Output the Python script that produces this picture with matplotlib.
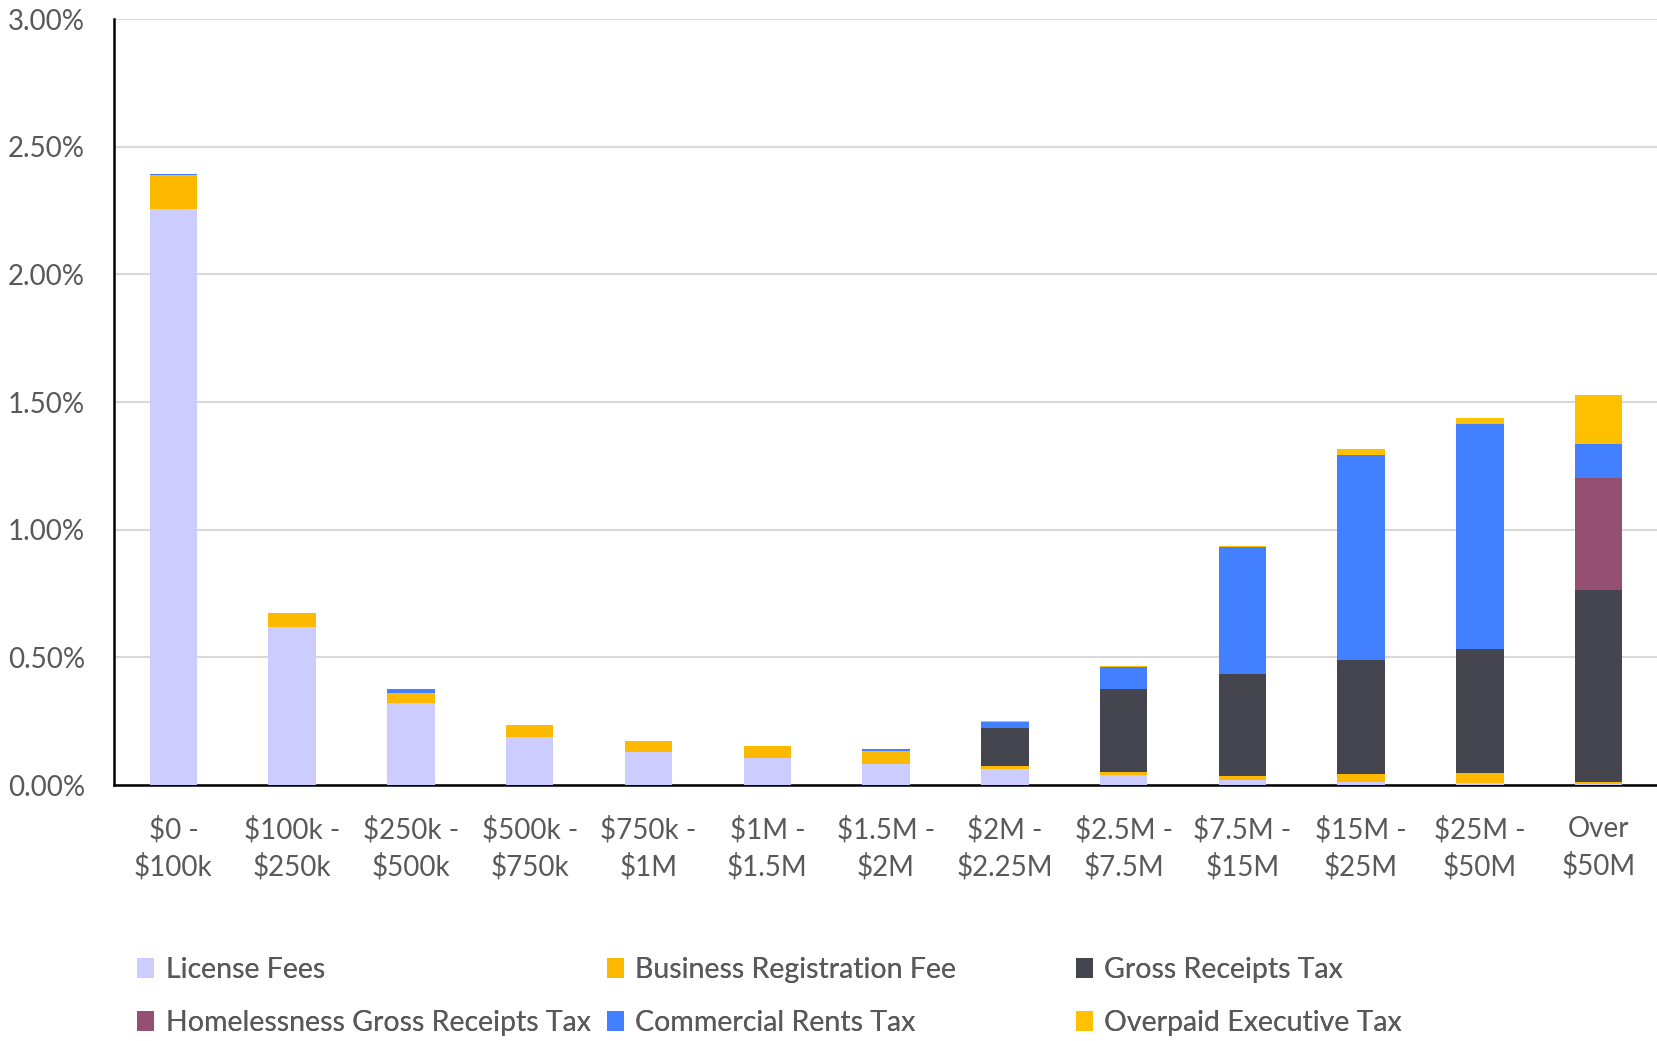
import matplotlib.pyplot as plt
import numpy as np
from matplotlib.patches import Patch
from matplotlib.ticker import FuncFormatter

# revenue brackets (x axis)
brackets = ["$0 -\n$100k", "$100k -\n$250k", "$250k -\n$500k", "$500k -\n$750k",
            "$750k -\n$1M", "$1M -\n$1.5M", "$1.5M -\n$2M", "$2M -\n$2.25M",
            "$2.5M -\n$7.5M", "$7.5M -\n$15M", "$15M -\n$25M", "$25M -\n$50M",
            "Over\n$50M"]

# effective tax rate per component, in percent
license_fees = [2.255, 0.620, 0.322, 0.188, 0.128, 0.104, 0.083, 0.061, 0.039, 0.020, 0.012, 0.007, 0.003]
business_reg = [0.133, 0.052, 0.039, 0.048, 0.043, 0.047, 0.049, 0.015, 0.013, 0.016, 0.030, 0.040, 0.009]
gross_receipts = [0, 0, 0, 0, 0, 0, 0, 0.148, 0.326, 0.397, 0.446, 0.484, 0.751]
homeless_grt = [0, 0, 0, 0, 0, 0, 0, 0, 0, 0, 0, 0, 0.439]
commercial_rents = [0.005, 0, 0.015, 0, 0, 0, 0.010, 0.024, 0.085, 0.500, 0.804, 0.882, 0.134]
overpaid_exec = [0, 0, 0, 0, 0, 0, 0, 0.002, 0.003, 0.005, 0.023, 0.023, 0.190]

series = [
    ("License Fees", license_fees, "#CCCCFF"),
    ("Business Registration Fee", business_reg, "#FCB900"),
    ("Gross Receipts Tax", gross_receipts, "#45454F"),
    ("Homelessness Gross Receipts Tax", homeless_grt, "#954F72"),
    ("Commercial Rents Tax", commercial_rents, "#4380FF"),
    ("Overpaid Executive Tax", overpaid_exec, "#FFC000"),
]

plt.rcParams['font.family'] = ['Lato', 'DejaVu Sans']
text_color = "#595959"

fig = plt.figure(figsize=(16.58, 10.41), dpi=100)
ax = fig.add_axes([0.0688, 0.2459, 0.9312, 0.7358])

x = np.arange(len(brackets))
bottom = np.zeros(len(brackets))
handles = {}
for name, vals, color in series:
    vals = np.array(vals)
    ax.bar(x, vals, width=0.4, bottom=bottom, color=color, zorder=3)
    bottom += vals
    handles[name] = Patch(facecolor=color, label=name)

ax.set_xlim(-0.5, len(brackets) - 0.5)
ax.set_ylim(0, 3.0)
ax.set_yticks(np.arange(0, 3.01, 0.5))
ax.yaxis.set_major_formatter(FuncFormatter(lambda v, p: f"{v:.2f}%"))
ax.set_xticks(x)
ax.set_xticklabels(brackets, linespacing=1.45)

ax.grid(axis='y', color="#D9D9D9", linewidth=1.5, zorder=0)
ax.tick_params(axis='both', length=0, labelsize=20, labelcolor=text_color)
ax.tick_params(axis='y', pad=21)
ax.tick_params(axis='x', pad=22)
for s in ['top', 'right']:
    ax.spines[s].set_visible(False)
ax.spines['left'].set_linewidth(1.8)
ax.spines['bottom'].set_linewidth(1.8)

# legend: three columns placed side by side, two rows each
columns = [["License Fees", "Homelessness Gross Receipts Tax"],
           ["Business Registration Fee", "Commercial Rents Tax"],
           ["Gross Receipts Tax", "Overpaid Executive Tax"]]
col_x = [0.076, 0.359, 0.642]
for names, cx in zip(columns, col_x):
    leg = fig.legend([handles[n] for n in names], names, loc='lower left',
                     bbox_to_anchor=(cx, -0.006), frameon=False, fontsize=20.5,
                     handlelength=0.6, handleheight=0.7, handletextpad=0.4,
                     labelspacing=0.95, labelcolor=text_color,
                     borderaxespad=0.0)
    fig.add_artist(leg)

fig.savefig("out.png", dpi=100)
